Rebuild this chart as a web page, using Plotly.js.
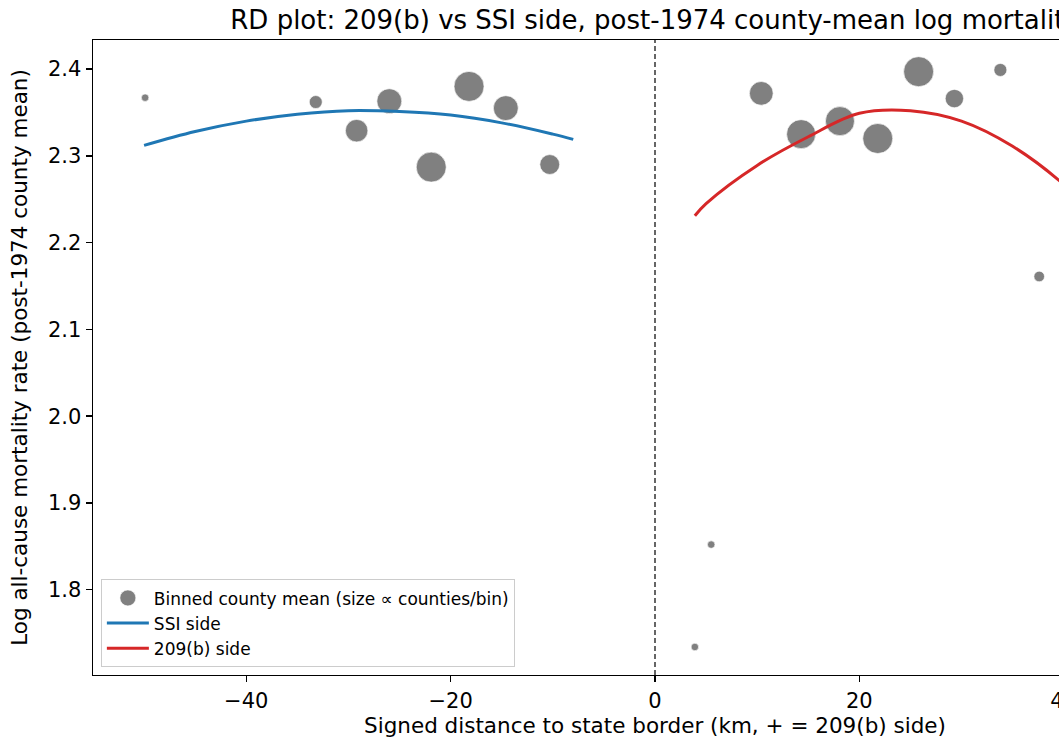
<!DOCTYPE html>
<html><head><meta charset="utf-8">
<script src="https://cdn.plot.ly/plotly-3.0.1.min.js"></script>
<style>
html,body{margin:0;padding:0;overflow:hidden;background:#fff;width:1059px;height:749px}
#plot{width:1260px;height:749px}
</style>
</head><body><div id="plot"></div>
<script>
// Binned county means, SSI side (negative distance)
const ssiBinX = [-49.9, -33.2, -29.2, -26.0, -21.9, -18.2, -14.6, -10.3];
const ssiBinY = [2.367, 2.362, 2.329, 2.363, 2.287, 2.380, 2.355, 2.290];
const ssiBinN = [1, 3, 9, 11, 16, 16, 11, 7];
// Binned county means, 209(b) side (positive distance)
const b209BinX = [3.9, 5.5, 10.4, 14.3, 18.1, 21.8, 25.8, 29.3, 33.8, 37.6];
const b209BinY = [1.734, 1.852, 2.372, 2.325, 2.340, 2.320, 2.397, 2.366, 2.399, 2.161];
const b209BinN = [1, 1, 10, 15, 15, 16, 16, 6, 3, 2];
// Fitted curves
const ssiFitX = [-50, -45, -40, -35, -30, -25, -20, -15, -10, -8];
const ssiFitY = [2.312, 2.328, 2.340, 2.348, 2.352, 2.351, 2.347, 2.338, 2.325, 2.319];
const b209FitX = [3.9, 5, 10, 15, 20, 25, 30, 35, 40, 45, 50];
const b209FitY = [2.231, 2.245, 2.289, 2.322, 2.349, 2.352, 2.340, 2.311, 2.267, 2.207, 2.131];

const titleText = 'RD plot: 209(b) vs SSI side, post-1974 county-mean log mortality';
const xTitle = 'Signed distance to state border (km, + = 209(b) side)';
const yTitle = 'Log all-cause mortality rate (post-1974 county mean)';

const binX = ssiBinX.concat(b209BinX);
const binY = ssiBinY.concat(b209BinY);
const binN = ssiBinN.concat(b209BinN);
const sizes = binN.map(n => 7.5 * Math.sqrt(n));

const font = 'DejaVu Sans, sans-serif';

const traces = [
  {x: binX, y: binY, mode: 'markers', type: 'scatter',
   name: 'Binned county mean (size ∝ counties/bin)',
   marker: {size: sizes, sizemode: 'diameter', opacity: 1, color: 'rgb(128,128,128)', line: {color: 'rgba(255,255,255,0.8)', width: 0.8}}},
  {x: ssiFitX, y: ssiFitY, mode: 'lines', type: 'scatter', name: 'SSI side',
   line: {color: '#1f77b4', width: 3, shape: 'spline'}},
  {x: b209FitX, y: b209FitY, mode: 'lines', type: 'scatter', name: '209(b) side',
   line: {color: '#d62728', width: 3, shape: 'spline'}}
];

const axisCommon = {
  showgrid: false, zeroline: false, showline: true, mirror: true,
  linecolor: '#000', linewidth: 1.4, ticks: 'outside', ticklen: 6, tickwidth: 1.4, tickcolor: '#000',
  tickfont: {family: font, size: 21, color: '#000'}, automargin: false
};

const layout = {
  width: 1260, height: 749,
  margin: {l: 93, r: 43, t: 40, b: 74},
  paper_bgcolor: '#fff', plot_bgcolor: '#fff',
  title: {text: titleText, font: {family: font, size: 26, color: '#000'}, x: 0.5, xref: 'paper', xanchor: 'center', y: 0.974, yref: 'container', yanchor: 'middle'},
  xaxis: Object.assign({}, axisCommon, {range: [-55, 55], dtick: 20, tick0: 0,
    title: {text: xTitle, font: {family: font, size: 21.5, color: '#000'}, standoff: 6}}),
  yaxis: Object.assign({}, axisCommon, {range: [1.7017, 2.4335], dtick: 0.1, tick0: 0, tickformat: '.1f',
    title: {text: yTitle, font: {family: font, size: 21.5, color: '#000'}, standoff: 14}}),
  shapes: [{type: 'line', xref: 'x', yref: 'paper', x0: 0, x1: 0, y0: 0, y1: 1,
    line: {color: '#000', width: 1.2, dash: '5px,3px'}}],
  legend: {x: 0.007, y: 0.012, xanchor: 'left', yanchor: 'bottom',
    bgcolor: 'rgba(255,255,255,0.8)', bordercolor: '#cccccc', borderwidth: 1,
    font: {family: font, size: 17, color: '#000'}, itemsizing: 'trace', itemwidth: 42, tracegroupgap: 0},
  showlegend: true, hovermode: false
};

Plotly.newPlot('plot', traces, layout, {staticPlot: true, displayModeBar: false});
</script></body></html>
